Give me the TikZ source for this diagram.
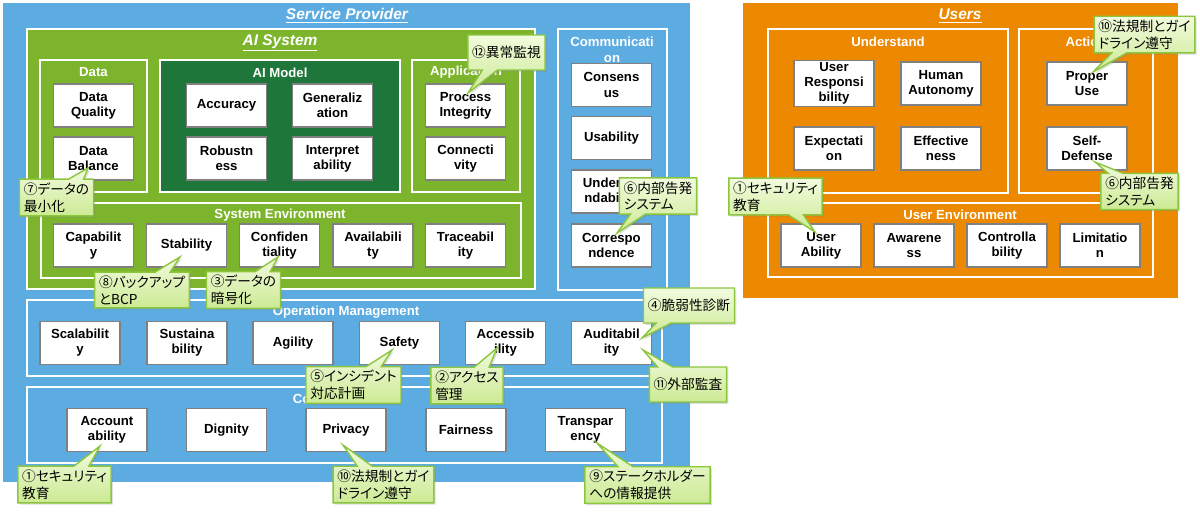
\documentclass[tikz,border=0pt]{standalone}
\usepackage{fontspec}
\setmainfont{Liberation Sans}
\newfontfamily\jpfont[RawFeature=+palt]{Noto Sans CJK JP}
\usetikzlibrary{shapes.callouts, shadows, calc}

\definecolor{spblue}{RGB}{92,172,226}
\definecolor{aigreen}{RGB}{124,181,43}
\definecolor{modelgreen}{RGB}{30,118,58}
\definecolor{usrorange}{RGB}{237,137,0}
\definecolor{itemgray}{RGB}{128,128,128}
\definecolor{noteline}{RGB}{140,198,63}
\definecolor{notetop}{RGB}{242,251,222}
\definecolor{notebot}{RGB}{204,234,148}

\begin{document}
\begin{tikzpicture}[x=0.02cm, y=-0.02cm,
  item/.style={draw=itemgray, fill=white, line width=0.6pt, minimum width=1.6cm, minimum height=0.86cm,
    inner sep=1pt, align=center, font=\fontsize{7.5}{8.6}\selectfont\bfseries},
  zone/.style={draw=white, line width=1.5pt},
  lbl/.style={text=white, align=center, font=\fontsize{7.5}{9}\selectfont\bfseries},
  title/.style={text=white, font=\fontsize{8.8}{10}\selectfont\bfseries\itshape},
  note/.style={rectangle callout, draw=noteline, line width=0.8pt, top color=notetop, bottom color=notebot,
    callout pointer width=0.3cm, align=left, inner xsep=2.5pt, inner ysep=2pt, minimum height=0.7cm,
    font=\jpfont\fontsize{7.8}{9.6}\selectfont,
    drop shadow={opacity=0.25, shadow xshift=1pt, shadow yshift=-1pt}}]
\useasboundingbox (0,0) rectangle (1200,518);

% service provider side
\fill[spblue] (3,3) rectangle (690,482);
\node[title] (sp) at (347,16) {\underline{Service Provider}};
\draw[zone, fill=aigreen] (27,29) rectangle (535,289);
\node[title] (ais) at (280,43) {\underline{AI System}};
\draw[zone, fill=aigreen] (40,60) rectangle (147,192);
\draw[zone, fill=modelgreen] (160,60) rectangle (400,192);
\draw[zone, fill=aigreen] (412,60) rectangle (520,192);
\draw[zone, fill=aigreen] (41,203) rectangle (521,278);
\draw[zone, fill=spblue] (558,29) rectangle (667,290);
\draw[zone, fill=spblue] (27,300) rectangle (662,376);
\draw[zone, fill=spblue] (27,387) rectangle (662,463);

\node[lbl] (ldata) at (93.5,72) {Data};
\node[lbl] (lmodel) at (280,73) {AI Model};
\node[lbl] (lapp) at (466,72) {Application};
\node[lbl] (lsys) at (280,215) {System Environment};
\node[lbl] (lcomm) at (612,50) {Communicati\\on};
\node[lbl] (lops) at (346,312) {Operation Management};
\node[lbl] (lcode) at (346,399) {Code of Conduct};

% data / model / application
\node[item] (dq) at (93.5,105.5) {Data\\Quality};
\node[item] (db) at (93.5,158.5) {Data\\Balance};
\node[item] (acc) at (226.5,105.5) {Accuracy};
\node[item] (rob) at (226.5,158.5) {Robustn\\ess};
\node[item] (gen) at (332.5,105.5) {Generaliz\\ation};
\node[item] (intp) at (332.5,158.5) {Interpret\\ability};
\node[item] (proc) at (465.5,105.5) {Process\\Integrity};
\node[item] (conn) at (465.5,158.5) {Connecti\\vity};

% system environment
\node[item] (cap) at (93.5,245.5) {Capabilit\\y};
\node[item] (stab) at (186.5,245.5) {Stability};
\node[item] (conf) at (279.5,245.5) {Confiden\\tiality};
\node[item] (avail) at (373,245.5) {Availabili\\ty};
\node[item] (trace) at (465.5,245.5) {Traceabil\\ity};

% communication
\node[item] (cons) at (611.5,85) {Consens\\us};
\node[item] (usab) at (611.5,138) {Usability};
\node[item] (undr) at (611.5,191.5) {Understa\\ndability};
\node[item] (corr) at (611.5,245.5) {Correspo\\ndence};

% operation management
\node[item] (scal) at (80,343) {Scalabilit\\y};
\node[item] (sust) at (187,343) {Sustaina\\bility};
\node[item] (agil) at (293,343) {Agility};
\node[item] (safe) at (399.5,343) {Safety};
\node[item] (acces) at (505.5,343) {Accessib\\ility};
\node[item] (audit) at (611.5,343) {Auditabil\\ity};

% code of conduct
\node[item] (acct) at (107,430) {Account\\ability};
\node[item] (dign) at (226.5,430) {Dignity};
\node[item] (priv) at (346,430) {Privacy};
\node[item] (fair) at (466,430) {Fairness};
\node[item] (trans) at (585.5,430) {Transpar\\ency};

% users side
\fill[usrorange] (743,3) rectangle (1178,298);
\node[title] (usr) at (960,16) {\underline{Users}};
\draw[zone] (768,29) rectangle (1008,193);
\draw[zone] (1019,29) rectangle (1153,193);
\draw[zone] (768,203) rectangle (1153,277);
\node[lbl] (lund) at (888,42) {Understand};
\node[lbl] (lact) at (1086,42) {Action};
\node[lbl] (lenv) at (960,215) {User Environment};

\node[item] (uresp) at (834,83.5) {User\\Responsi\\bility};
\node[item] (hauto) at (941,83.5) {Human\\Autonomy};
\node[item] (expt) at (834,148.5) {Expectati\\on};
\node[item] (effv) at (941,148.5) {Effective\\ness};
\node[item] (puse) at (1087,83.5) {Proper\\Use};
\node[item] (sdef) at (1087,148.5) {Self-\\Defense};
\node[item] (uabil) at (821,245.5) {User\\Ability};
\node[item] (aware) at (914,245.5) {Awarene\\ss};
\node[item] (ctrl) at (1007,245.5) {Controlla\\bility};
\node[item] (limit) at (1100,245.5) {Limitatio\\n};

% callouts
\node[note, callout absolute pointer={($(proc.center)+(2.5,-12.5)$)}] (n12) at (506.5,52.5) {⑫異常監視};
\node[note, callout absolute pointer={($(db.center)+(-5.5,9.5)$)}] (n7) at (56.5,197.5) {⑦データの\\最小化};
\node[note, callout absolute pointer={($(corr.center)+(5.5,-12.5)$)}] (n6a) at (658,196) {⑥内部告発\\システム};
\node[note, callout absolute pointer={($(stab.center)+(-6.5,11.5)$)}] (n8) at (142,290) {⑧バックアップ\\とBCP};
\node[note, callout absolute pointer={($(conf.center)+(-1.5,11.5)$)}] (n3) at (243.5,290) {③データの\\暗号化};
\node[note, callout absolute pointer={($(audit.center)+(30.5,-5)$)}] (n4) at (689,305.5) {④脆弱性診断};
\node[note, callout absolute pointer={($(audit.center)+(31.5,7)$)}] (n11) at (688,384.5) {⑪外部監査};
\node[note, callout absolute pointer={($(safe.center)+(-7.5,7)$)}] (n5) at (353.5,385) {⑤インシデント\\対応計画};
\node[note, callout absolute pointer={($(acces.center)+(-8.5,5)$)}] (n2) at (467,385.5) {②アクセス\\管理};
\node[note, callout absolute pointer={($(acct.center)+(-7,16)$)}] (n1a) at (64.5,484.5) {①セキュリティ\\教育};
\node[note, callout absolute pointer={($(priv.center)+(-3,15)$)}] (n10a) at (383.5,484.5) {⑩法規制とガイ\\ドライン遵守};
\node[note, callout absolute pointer={($(trans.center)+(11.5,13)$)}] (n9) at (647.5,485) {⑨ステークホルダー\\への情報提供};
\node[note, callout absolute pointer={($(puse.center)+(6,-11.5)$)}] (n10b) at (1144.5,34.5) {⑩法規制とガイ\\ドライン遵守};
\node[note, callout absolute pointer={($(sdef.center)+(8,13.5)$)}] (n6b) at (1139.5,191.5) {⑥内部告発\\システム};
\node[note, callout absolute pointer={($(uabil.center)+(-6,-13.5)$)}] (n1b) at (775.5,196.5) {①セキュリティ\\教育};
\end{tikzpicture}
\end{document}
